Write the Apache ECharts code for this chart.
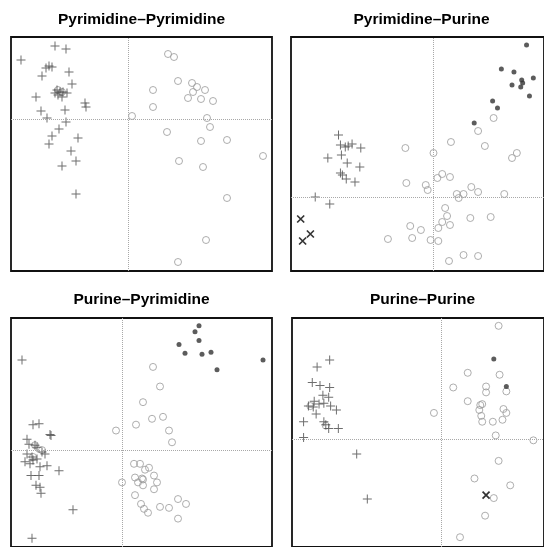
<!DOCTYPE html>
<html>
<head>
<meta charset="utf-8">
<script src="https://cdn.jsdelivr.net/npm/echarts@6/dist/echarts.min.js"></script>
<style>
  html, body { margin: 0; padding: 0; background: #fff; }
  #chart { width: 544px; height: 547px; }
</style>
</head>
<body>
<div id="chart"></div>
<script>
// Panel titles (pair type)
const titles = ['Pyrimidine–Pyrimidine', 'Pyrimidine–Purine', 'Purine–Pyrimidine', 'Purine–Purine'];

// Axis extents per panel (reference lines sit at 0 on both axes)
const xRanges = [[-11.7, 14.4], [-14.7, 11.4], [-11.1, 15.0], [-15.5, 10.6]];
const yRanges = [[-15.2, 8.2], [-7.4, 16.0], [-9.9, 13.5], [-11.0, 12.4]];

// Pyrimidine–Pyrimidine
const pyPyCross = [
  [-10.7, 5.9], [-7.3, 7.3], [-6.2, 7.0], [-7.9, 5.3], [-7.6, 5.2], [-8.2, 5.1], [-8.6, 4.3],
  [-5.9, 4.7], [-5.6, 3.5], [-9.2, 2.2], [-7.1, 2.9], [-6.8, 2.7], [-7.3, 2.6], [-6.5, 2.7],
  [-6.1, 2.6], [-6.6, 2.2], [-7.0, 2.4], [-4.3, 1.6], [-4.2, 1.2], [-6.3, 0.9], [-8.7, 0.8],
  [-8.1, 0.1], [-6.2, -0.3], [-6.9, -1.0], [-7.6, -1.7], [-5.0, -1.9], [-7.9, -2.5],
  [-5.7, -3.2], [-5.2, -4.2], [-6.6, -4.7], [-5.2, -7.5]
];
const pyPyCircle = [
  [4.0, 6.5], [4.6, 6.2], [5.0, 3.8], [6.4, 3.6], [6.9, 3.2], [7.7, 2.9], [6.5, 2.7],
  [6.0, 2.1], [7.3, 2.0], [8.5, 1.8], [2.5, 2.9], [2.5, 1.2], [0.4, 0.3], [7.9, 0.1],
  [8.2, -0.8], [3.9, -1.3], [7.3, -2.2], [9.9, -2.1], [13.5, -3.7], [5.1, -4.2],
  [7.5, -4.8], [9.9, -7.9], [7.8, -12.1], [5.0, -14.3], [-7.0, 2.9], [-6.6, 2.7]
];
const pyPyDot = [];
const pyPyX = [];

// Pyrimidine–Purine
const pyPuCross = [
  [-9.8, 6.2], [-9.6, 5.2], [-9.1, 5.0], [-8.8, 5.1], [-8.4, 5.3], [-7.5, 4.9], [-10.9, 3.9],
  [-9.5, 4.2], [-8.9, 3.4], [-7.6, 3.0], [-9.6, 2.4], [-9.4, 2.2], [-9.0, 1.8], [-8.1, 1.5],
  [-12.2, 0.0], [-10.7, -0.7]
];
const pyPuCircle = [
  [6.2, 7.9], [4.6, 6.6], [1.8, 5.5], [-2.9, 4.9], [5.3, 5.1], [0.0, 4.4], [8.6, 4.4],
  [8.1, 3.9], [0.9, 2.3], [0.4, 1.9], [1.7, 2.0], [-2.8, 1.4], [-0.8, 1.2], [-0.6, 0.7],
  [3.9, 1.0], [4.6, 0.5], [2.4, 0.3], [3.1, 0.3], [2.6, -0.1], [7.3, 0.3], [1.2, -1.1],
  [1.4, -1.9], [0.9, -2.5], [0.5, -3.1], [1.7, -2.8], [3.8, -2.1], [5.9, -2.0], [-2.4, -2.9],
  [-1.3, -3.3], [-2.2, -4.1], [-4.7, -4.2], [-0.3, -4.3], [0.5, -4.4], [3.1, -5.8],
  [4.6, -5.9], [1.6, -6.4]
];
const pyPuDot = [
  [9.6, 15.2], [7.0, 12.8], [8.3, 12.5], [8.1, 11.2], [9.1, 11.7], [9.2, 11.4], [9.0, 11.0],
  [10.3, 11.9], [9.9, 10.1], [6.1, 9.6], [6.6, 8.9], [4.2, 7.4]
];
const pyPuX = [[-13.7, -2.2], [-12.7, -3.7], [-13.5, -4.4]];

// Purine–Pyrimidine
const puPyCross = [
  [-10.0, 9.2], [-8.9, 2.6], [-8.3, 2.7], [-7.2, 1.6], [-7.1, 1.5], [-9.5, 1.1], [-9.3, 0.6],
  [-8.7, 0.5], [-8.5, 0.3], [-8.0, -0.2], [-7.7, -0.4], [-9.5, -0.4], [-9.0, -0.7],
  [-8.9, -1.0], [-8.5, -0.9], [-9.7, -1.2], [-9.2, -1.4], [-8.2, -1.7], [-7.5, -1.6],
  [-6.3, -2.1], [-9.1, -2.6], [-8.3, -2.6], [-8.6, -3.6], [-8.2, -3.8], [-8.1, -4.4],
  [-4.9, -6.1], [-9.0, -9.0]
];
const puPyCircle = [
  [3.1, 8.5], [3.8, 6.5], [2.1, 4.9], [3.0, 3.2], [4.1, 3.4], [1.4, 2.6], [-0.6, 2.0],
  [4.7, 2.0], [5.0, 0.8], [1.2, -1.4], [1.8, -1.4], [2.3, -2.0], [2.7, -1.8], [3.2, -2.6],
  [1.3, -2.8], [2.0, -2.9], [2.1, -3.0], [1.6, -3.3], [2.1, -3.6], [3.5, -3.3], [3.2, -4.0],
  [0.0, -3.3], [1.3, -4.6], [1.9, -5.5], [2.2, -6.0], [2.6, -6.4], [3.8, -5.8], [4.7, -5.9],
  [5.6, -5.0], [6.4, -5.5], [5.6, -7.0], [-8.7, 0.5], [-8.0, 0.0], [-8.9, -0.7]
];
const puPyDot = [
  [7.7, 12.7], [7.3, 12.1], [7.7, 11.2], [5.7, 10.8], [6.3, 9.9], [8.0, 9.8], [8.9, 10.0],
  [14.1, 9.2], [9.5, 8.2]
];
const puPyX = [];

// Purine–Purine
const puPuCross = [
  [-11.6, 8.1], [-12.9, 7.4], [-13.4, 5.8], [-12.6, 5.5], [-11.6, 5.3], [-12.3, 4.5],
  [-11.7, 4.3], [-13.2, 3.9], [-13.8, 3.4], [-13.3, 3.3], [-12.7, 3.6], [-12.2, 3.7],
  [-11.5, 3.4], [-10.9, 3.0], [-13.0, 2.6], [-14.3, 1.8], [-12.2, 1.8], [-12.0, 1.5],
  [-11.7, 1.1], [-10.7, 1.1], [-14.3, 0.2], [-8.8, -1.5], [-7.7, -6.1]
];
const puPuCircle = [
  [5.9, 11.6], [2.7, 6.8], [6.0, 6.6], [1.2, 5.3], [4.6, 5.4], [4.6, 4.8], [6.7, 4.9],
  [2.7, 3.9], [4.0, 3.5], [4.2, 3.6], [3.9, 3.0], [6.4, 3.1], [6.7, 2.7], [4.1, 2.4],
  [4.2, 1.8], [5.3, 1.8], [6.3, 2.0], [-0.8, 2.7], [5.6, 0.4], [9.5, -0.1], [5.9, -2.2],
  [3.4, -4.0], [7.1, -4.7], [5.4, -6.0], [4.5, -7.8], [1.9, -10.0], [-13.6, 3.4], [-12.0, 1.4]
];
const puPuDot = [[5.4, 8.2], [6.7, 5.4]];
const puPuX = [[4.6, -5.7]];

const crossSets = [pyPyCross, pyPuCross, puPyCross, puPuCross];
const circleSets = [pyPyCircle, pyPuCircle, puPyCircle, puPuCircle];
const dotSets = [pyPyDot, pyPuDot, puPyDot, puPuDot];
const xSets = [pyPyX, pyPuX, puPyX, puPuX];

// Plot boxes in pixels: [left, top]; all panels share the same size
const boxes = [[11, 37], [291, 37], [11, 318], [292, 318]];
const boxW = 261, boxH = 234;

const plusPath = 'path://M4.45,0h1.1v4.45h4.45v1.1h-4.45v4.45h-1.1v-4.45h-4.45v-1.1h4.45z';
const xPath = 'path://M0,0L10,10M10,0L0,10';

const grid = [], xAxis = [], yAxis = [], series = [], graphic = [];

boxes.forEach(function (b, i) {
  grid.push({
    left: b[0], top: b[1], width: boxW, height: boxH,
    show: true, borderColor: '#111', borderWidth: 1.8, backgroundColor: 'transparent'
  });
  const hidden = {
    axisLine: { show: false }, axisTick: { show: false },
    axisLabel: { show: false }, splitLine: { show: false }
  };
  xAxis.push(Object.assign({ type: 'value', gridIndex: i, min: xRanges[i][0], max: xRanges[i][1] }, hidden));
  yAxis.push(Object.assign({ type: 'value', gridIndex: i, min: yRanges[i][0], max: yRanges[i][1] }, hidden));

  series.push({
    type: 'scatter', xAxisIndex: i, yAxisIndex: i, z: 2,
    data: circleSets[i], symbol: 'circle', symbolSize: 7,
    itemStyle: { color: 'rgba(255,255,255,0)', borderColor: '#9a9a9a', borderWidth: 1 },
    markLine: {
      silent: true, symbol: 'none', animation: false,
      label: { show: false },
      lineStyle: { color: '#a8a8a8', type: 'dotted', width: 1 },
      data: [{ xAxis: 0 }, { yAxis: 0 }]
    }
  });
  series.push({
    type: 'scatter', xAxisIndex: i, yAxisIndex: i, z: 3,
    data: crossSets[i], symbol: plusPath, symbolSize: 9,
    itemStyle: { color: '#4a4a4a' }
  });
  series.push({
    type: 'scatter', xAxisIndex: i, yAxisIndex: i, z: 4,
    data: dotSets[i], symbol: 'circle', symbolSize: 5,
    itemStyle: { color: '#333' }
  });
  series.push({
    type: 'scatter', xAxisIndex: i, yAxisIndex: i, z: 5,
    data: xSets[i], symbol: xPath, symbolSize: 7,
    itemStyle: { color: 'none', borderColor: '#000', borderWidth: 1.7 }
  });

  graphic.push({
    type: 'text', x: b[0] + boxW / 2, y: i < 2 ? 19.5 : 299.5,
    style: {
      text: titles[i], fill: '#000',
      font: 'bold 15.5px "Liberation Sans", Arial, sans-serif',
      textAlign: 'center', textVerticalAlign: 'middle'
    }
  });
});

const chart = echarts.init(document.getElementById('chart'), null, { renderer: 'canvas' });
chart.setOption({
  animation: false,
  backgroundColor: '#fff',
  grid: grid, xAxis: xAxis, yAxis: yAxis, series: series, graphic: graphic
});
</script>
</body>
</html>
